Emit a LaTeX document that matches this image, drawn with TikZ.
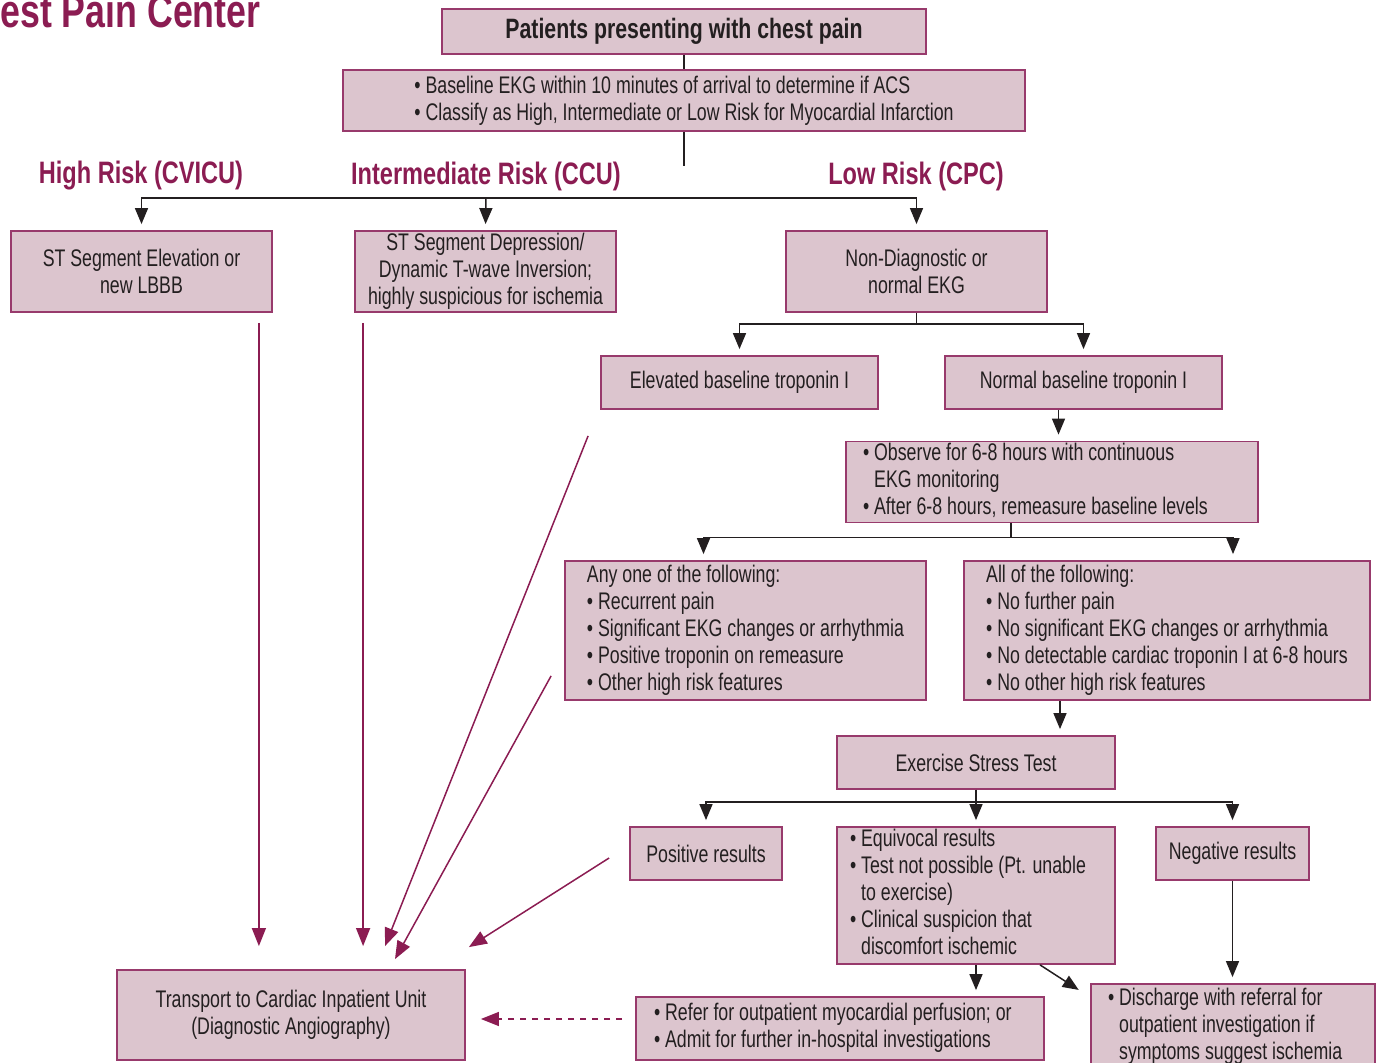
\documentclass[tikz,border=0pt]{standalone}
\usepackage{fontspec}
\setmainfont{Liberation Sans}[FakeStretch=0.74, BoldFeatures={FakeStretch=0.76}]
\usepackage{tikz}
\usetikzlibrary{arrows.meta,positioning,calc}
\definecolor{boxfill}{RGB}{220,197,206}
\definecolor{boxline}{RGB}{152,58,108}
\definecolor{maroon}{RGB}{139,28,82}
\definecolor{ink}{RGB}{35,31,32}
\tikzstyle{box}=[draw=boxline, fill=boxfill, line width=0.9pt, text=ink, align=center, inner sep=0pt, font=\fontsize{12}{13.5}\selectfont]
\tikzstyle{arrow}=[draw=ink, line width=0.75pt, -{Triangle[length=8pt,width=6.5pt]}, shorten >=3pt]
\tikzstyle{line}=[draw=ink, line width=0.75pt]
\tikzstyle{redarrow}=[draw=maroon, line width=0.75pt, -{Triangle[length=9pt,width=7pt]}]
\tikzstyle{risk}=[text=maroon, font=\fontsize{15.5}{18}\selectfont\bfseries]
\newcommand{\bul}{\textbullet\ }
\newcommand{\bulskip}{\hphantom{\textbullet\ }}
\newcommand{\leftblock}[2]{\makebox[#1][l]{\begin{tabular}{@{}l@{}}#2\end{tabular}}}

\begin{document}
\begin{tikzpicture}[x=0.5pt, y=-0.5pt]
    \useasboundingbox (0,0) rectangle (1376,1063);

    \node (head) [anchor=base west, inner sep=0pt, text=maroon, font=\fontsize{23.5}{26}\selectfont\bfseries] at (0,28) {est Pain Center};

    % start
    \node (title) [box, minimum width=242pt, minimum height=22.5pt, font=\fontsize{14}{16}\selectfont\bfseries] at (684,31.5) {Patients presenting with chest pain};
    \node (base) [box, minimum width=341pt, minimum height=30.5pt, align=left] at (684,100.5) {\bul Baseline EKG within 10 minutes of arrival to determine if ACS\\\bul Classify as High, Intermediate or Low Risk for Myocardial Infarction};

    % risk levels
    \node (hrisk) [risk] at (141,176) {High Risk (CVICU)};
    \node (irisk) [risk] at (486,176) {Intermediate Risk (CCU)};
    \node (lrisk) [risk] at (916,176) {Low Risk (CPC)};

    \node (high) [box, minimum width=130.5pt, minimum height=40.5pt] at (141.5,271.5) {ST Segment Elevation or\\new LBBB};
    \node (inter) [box, minimum width=130.5pt, minimum height=40.5pt] at (485.5,271.5) {ST Segment Depression/\\Dynamic T-wave Inversion;\\highly suspicious for ischemia};
    \node (low) [box, minimum width=130.5pt, minimum height=40.5pt] at (916.5,271.5) {Non-Diagnostic or\\normal EKG};

    % low risk path
    \node (elev) [box, minimum width=138.5pt, minimum height=26.5pt] at (739.5,382.5) {Elevated baseline troponin I};
    \node (normal) [box, minimum width=138.5pt, minimum height=26.5pt] at (1083.5,382.5) {Normal baseline troponin I};
    \node (obs) [box, minimum width=206pt, minimum height=39pt] at (1052,482) {\leftblock{189pt}{\bul Observe for 6-8 hours with continuous\\\bulskip EKG monitoring\\\bul After 6-8 hours, remeasure baseline levels}};
    \node (any) [box, minimum width=180.5pt, minimum height=69.5pt, align=left] at (745.5,630.5) {Any one of the following:\\\bul Recurrent pain\\\bul Significant EKG changes or arrhythmia\\\bul Positive troponin on remeasure\\\bul Other high risk features};
    \node (all) [box, minimum width=203pt, minimum height=69.5pt, align=left] at (1167,630.5) {All of the following:\\\bul No further pain\\\bul No significant EKG changes or arrhythmia\\\bul No detectable cardiac troponin I at 6-8 hours\\\bul No other high risk features};
    \node (ex) [box, minimum width=139pt, minimum height=26.5pt] at (976,762.5) {Exercise Stress Test};
    \node (pos) [box, minimum width=76pt, minimum height=26.5pt] at (706,853.5) {Positive results};
    \node (equiv) [box, minimum width=139pt, minimum height=68.5pt] at (976,895.5) {\leftblock{126pt}{\bul Equivocal results\\\bul Test not possible (Pt. unable\\\bulskip to exercise)\\\bul Clinical suspicion that\\\bulskip discomfort ischemic}};
    \node (neg) [box, minimum width=76.5pt, minimum height=26.5pt] at (1232.5,853.5) {Negative results};

    % outcomes
    \node (transport) [box, minimum width=174pt, minimum height=45pt] at (291,1015) {Transport to Cardiac Inpatient Unit\\(Diagnostic Angiography)};
    \node (refer) [box, minimum width=204pt, minimum height=31.5pt] at (840,1028.5) {\leftblock{186pt}{\bul Refer for outpatient myocardial perfusion; or\\\bul Admit for further in-hospital investigations}};
    \node (disch) [box, minimum width=142pt, minimum height=43pt] at (1233,1027) {\leftblock{125pt}{\bul Discharge with referral for\\\bulskip outpatient investigation if\\\bulskip symptoms suggest ischemia}};

    % black connectors
    \draw[line] (title) -- (base);
    \draw[line] (base.south) -- ++(0,34);
    \coordinate (fork) at (486,198);
    \draw[arrow] (fork) -| (high.north);
    \draw[arrow] (fork) -- (inter.north);
    \draw[arrow] (fork) -| (low.north);
    \draw[arrow] (low.south) -- ++(0,11) -| (elev.north);
    \draw[arrow] (low.south) -- ++(0,11) -| (normal.north);
    \draw[arrow] ([xshift=-12.5pt]normal.south) -- ([xshift=-12.5pt]normal.south |- obs.north);
    \draw[arrow] ([xshift=-20.5pt]obs.south) -- ++(0,14) -| ([xshift=-21pt]any.north);
    \draw[arrow] ([xshift=-20.5pt]obs.south) -- ++(0,14) -| ([xshift=33pt]all.north);
    \draw[arrow] ([xshift=-53.5pt]all.south) -- ([xshift=-53.5pt]all.south |- ex.north);
    \draw[arrow] (ex.south) -- ++(0,12) -| (pos.north);
    \draw[arrow] (ex.south) -- (equiv.north);
    \draw[arrow] (ex.south) -- ++(0,12) -| (neg.north);
    \draw[arrow] (equiv.south) -- (equiv.south |- refer.north);
    \draw[arrow, shorten >=2pt] ([xshift=32pt]equiv.south) -- ($(disch.north west)+(-8,9)$);
    \draw[arrow] (neg.south) -- (neg.south |- disch.north);

    % to transport
    \draw[redarrow, shorten <=5pt, shorten >=11.5pt] ([xshift=-7pt]high.south east) -- ([xshift=-7pt]high.south east |- transport.north);
    \draw[redarrow, shorten <=5pt, shorten >=11.5pt] ([xshift=4.5pt]inter.south west) -- ([xshift=4.5pt]inter.south west |- transport.north);
    \draw[redarrow] ($(elev.south west)+(-12,26)$) -- ($(transport.north)+(94,-23)$);
    \draw[redarrow] ($(any.south west)+(-13,-25)$) -- ($(transport.north)+(104,-10)$);
    \draw[redarrow] ($(pos.west)+(-20,4.5)$) -- ($(transport.north east)+(3,-22)$);
    \draw[redarrow, dashed, shorten <=6.5pt, shorten >=7.5pt] ([yshift=4.75pt]refer.west) -- ([yshift=4.75pt]refer.west -| transport.east);
\end{tikzpicture}
\end{document}
